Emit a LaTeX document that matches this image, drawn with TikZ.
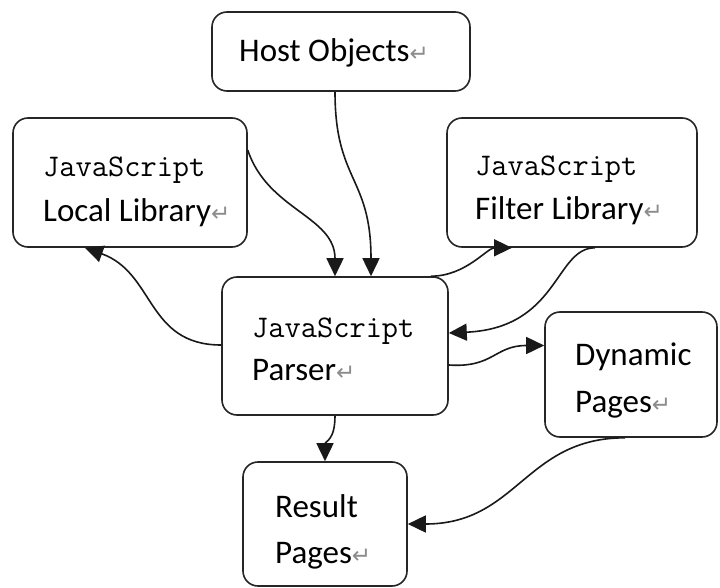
\documentclass[tikz,border=0pt]{standalone}
\usepackage{fontspec}
\setmainfont{Carlito}
\newfontfamily\symf{DejaVu Sans}
\usetikzlibrary{arrows.meta}
\newcommand\retmark{{\symf\fontsize{23}{23}\selectfont\color{gray!90}↵}}
\begin{document}
\begin{tikzpicture}[x=1pt,y=-1pt,
  box/.style={draw=black!85, line width=1.6pt, rounded corners=15pt, inner sep=0pt, fill=white},
  lbl/.style={anchor=base west, inner sep=0pt, font=\fontsize{33}{40}\selectfont},
  mlbl/.style={anchor=base west, inner sep=0pt, font=\ttfamily\fontsize{31.5}{34}\selectfont},
  conn/.style={draw=black!90, line width=1.6pt, -{Triangle[length=18pt,width=17pt]}},
]
\useasboundingbox (0,0) rectangle (720,588);

% boxes
\node[box, minimum width=258pt, minimum height=79pt] (host) at (341,51.5) {};
\node[box, minimum width=234pt, minimum height=129pt] (local) at (130,182.5) {};
\node[box, minimum width=250pt, minimum height=129pt] (filter) at (572,182.5) {};
\node[box, minimum width=226pt, minimum height=138pt] (parser) at (335,346) {};
\node[box, minimum width=172pt, minimum height=125pt] (dyn) at (631,374.5) {};
\node[box, minimum width=164pt, minimum height=124pt] (result) at (325,524) {};

% texts
\node[lbl] (t1) at (239,62) {Host Objects\retmark};
\node[mlbl] (t2) at (43,177) {JavaScript};
\node[lbl] (t3) at (43,222) {Local Library\retmark};
\node[mlbl] (t4) at (475,176) {JavaScript};
\node[lbl] (t5) at (475,219) {Filter Library\retmark};
\node[mlbl] (t6) at (252,337) {JavaScript};
\node[lbl] (t7) at (252,380) {Parser\retmark};
\node[lbl] (t8) at (575,365) {Dynamic};
\node[lbl] (t9) at (575,412) {Pages\retmark};
\node[lbl] (t10) at (275,517) {Result};
\node[lbl] (t11) at (275,563) {Pages\retmark};

% connectors
\draw[conn] ([xshift=-6pt]host.south) .. controls +(0,90) and +(0,-100) .. ([xshift=36pt]parser.north);
\draw[conn] ([yshift=-33pt]local.north east) .. controls +(20,60) and +(0,-60) .. (parser.north);
\draw[conn] ([yshift=1pt]parser.west) .. controls +(-75,0) and +(70,25) .. ([xshift=-45pt]local.south);
\draw[conn] ([xshift=-18pt]parser.north east) .. controls +(35,0) and +(-25,0) .. ([xshift=-60pt]filter.south);
\draw[conn] ([xshift=23pt]filter.south) .. controls +(-40,0) and +(110,-5) .. ([yshift=13pt]parser.east);
\draw[conn] ([yshift=-19pt]parser.east) .. controls +(45,3) and +(-50,0) .. ([yshift=29pt]dyn.west);
\draw[conn] (parser.south) .. controls +(0,25) and +(0,-20) .. (result.north);
\draw[conn] ([xshift=-6pt]dyn.south) .. controls +(-100,0) and +(110,0) .. (result.east);
\end{tikzpicture}
\end{document}
